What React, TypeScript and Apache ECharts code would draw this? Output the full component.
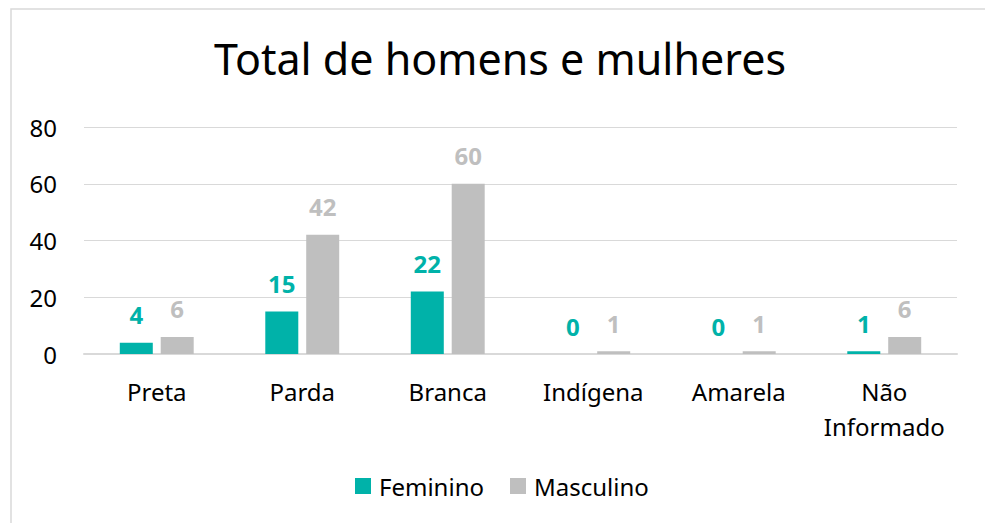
import React, { useEffect, useRef } from "react";
import * as echarts from "echarts";

const categories = ["Preta", "Parda", "Branca", "Indígena", "Amarela", "Não\nInformado"];
const feminino = [4, 15, 22, 0, 0, 1];
const masculino = [6, 42, 60, 1, 1, 6];
const yTicks = { min: 0, max: 80, interval: 20 };

const FONT = "'Noto Sans', sans-serif";
const TEAL = "#00b2a9";
const GRAY = "#bfbfbf";

export default function App() {
  const ref = useRef<HTMLDivElement>(null);
  useEffect(() => {
    if (!ref.current) return;
    const chart = echarts.init(ref.current, undefined, { renderer: "svg" });
    chart.setOption({
      animation: false,
      backgroundColor: "#ffffff",
      textStyle: { fontFamily: FONT },
      title: {
        text: "Total de homens e mulheres",
        left: 209,
        top: 32,
        textStyle: { fontFamily: FONT, fontSize: 43, fontWeight: "normal", color: "#000000" },
      },
      graphic: [
        {
          type: "rect",
          shape: { x: 11, y: 9, width: 990, height: 530 },
          style: { fill: "none", stroke: "#d9d9d9", lineWidth: 1.5 },
          silent: true,
          z: -1,
        },
      ],
      legend: {
        bottom: 20,
        left: 350,
        itemWidth: 16,
        itemHeight: 16,
        itemGap: 26,
        icon: "rect",
        textStyle: { fontFamily: FONT, fontSize: 24, color: "#000000", padding: [0, 0, 0, 3] },
        data: ["Feminino", "Masculino"],
      },
      grid: { left: 84, right: 28, top: 127, height: 227, containLabel: false },
      xAxis: {
        type: "category",
        data: categories,
        axisLine: { lineStyle: { color: "#d9d9d9", width: 2 } },
        axisTick: { show: false },
        axisLabel: {
          fontFamily: FONT,
          fontSize: 24,
          color: "#000000",
          margin: 20,
          lineHeight: 35,
          interval: 0,
        },
      },
      yAxis: {
        type: "value",
        min: yTicks.min,
        max: yTicks.max,
        interval: yTicks.interval,
        axisLine: { show: false },
        axisTick: { show: false },
        splitLine: { lineStyle: { color: "#d9d9d9", width: 1 } },
        axisLabel: { fontFamily: FONT, fontSize: 24, color: "#000000", margin: 27 },
      },
      series: [
        {
          name: "Feminino",
          type: "bar",
          data: feminino,
          barWidth: 33,
          barGap: "24%",
          itemStyle: { color: TEAL },
          label: {
            show: true,
            position: "top",
            distance: 16,
            fontFamily: FONT,
            fontSize: 24,
            fontWeight: "bold",
            color: TEAL,
          },
        },
        {
          name: "Masculino",
          type: "bar",
          data: masculino,
          barWidth: 33,
          itemStyle: { color: GRAY },
          label: {
            show: true,
            position: "top",
            distance: 16,
            fontFamily: FONT,
            fontSize: 24,
            fontWeight: "bold",
            color: GRAY,
          },
        },
      ],
    });
    return () => chart.dispose();
  }, []);
  return (
    <div style={{ position: "fixed", left: 0, top: 0, width: 985, height: 523, background: "#fff" }}>
      <div ref={ref} style={{ width: 985, height: 523 }} />
    </div>
  );
}
